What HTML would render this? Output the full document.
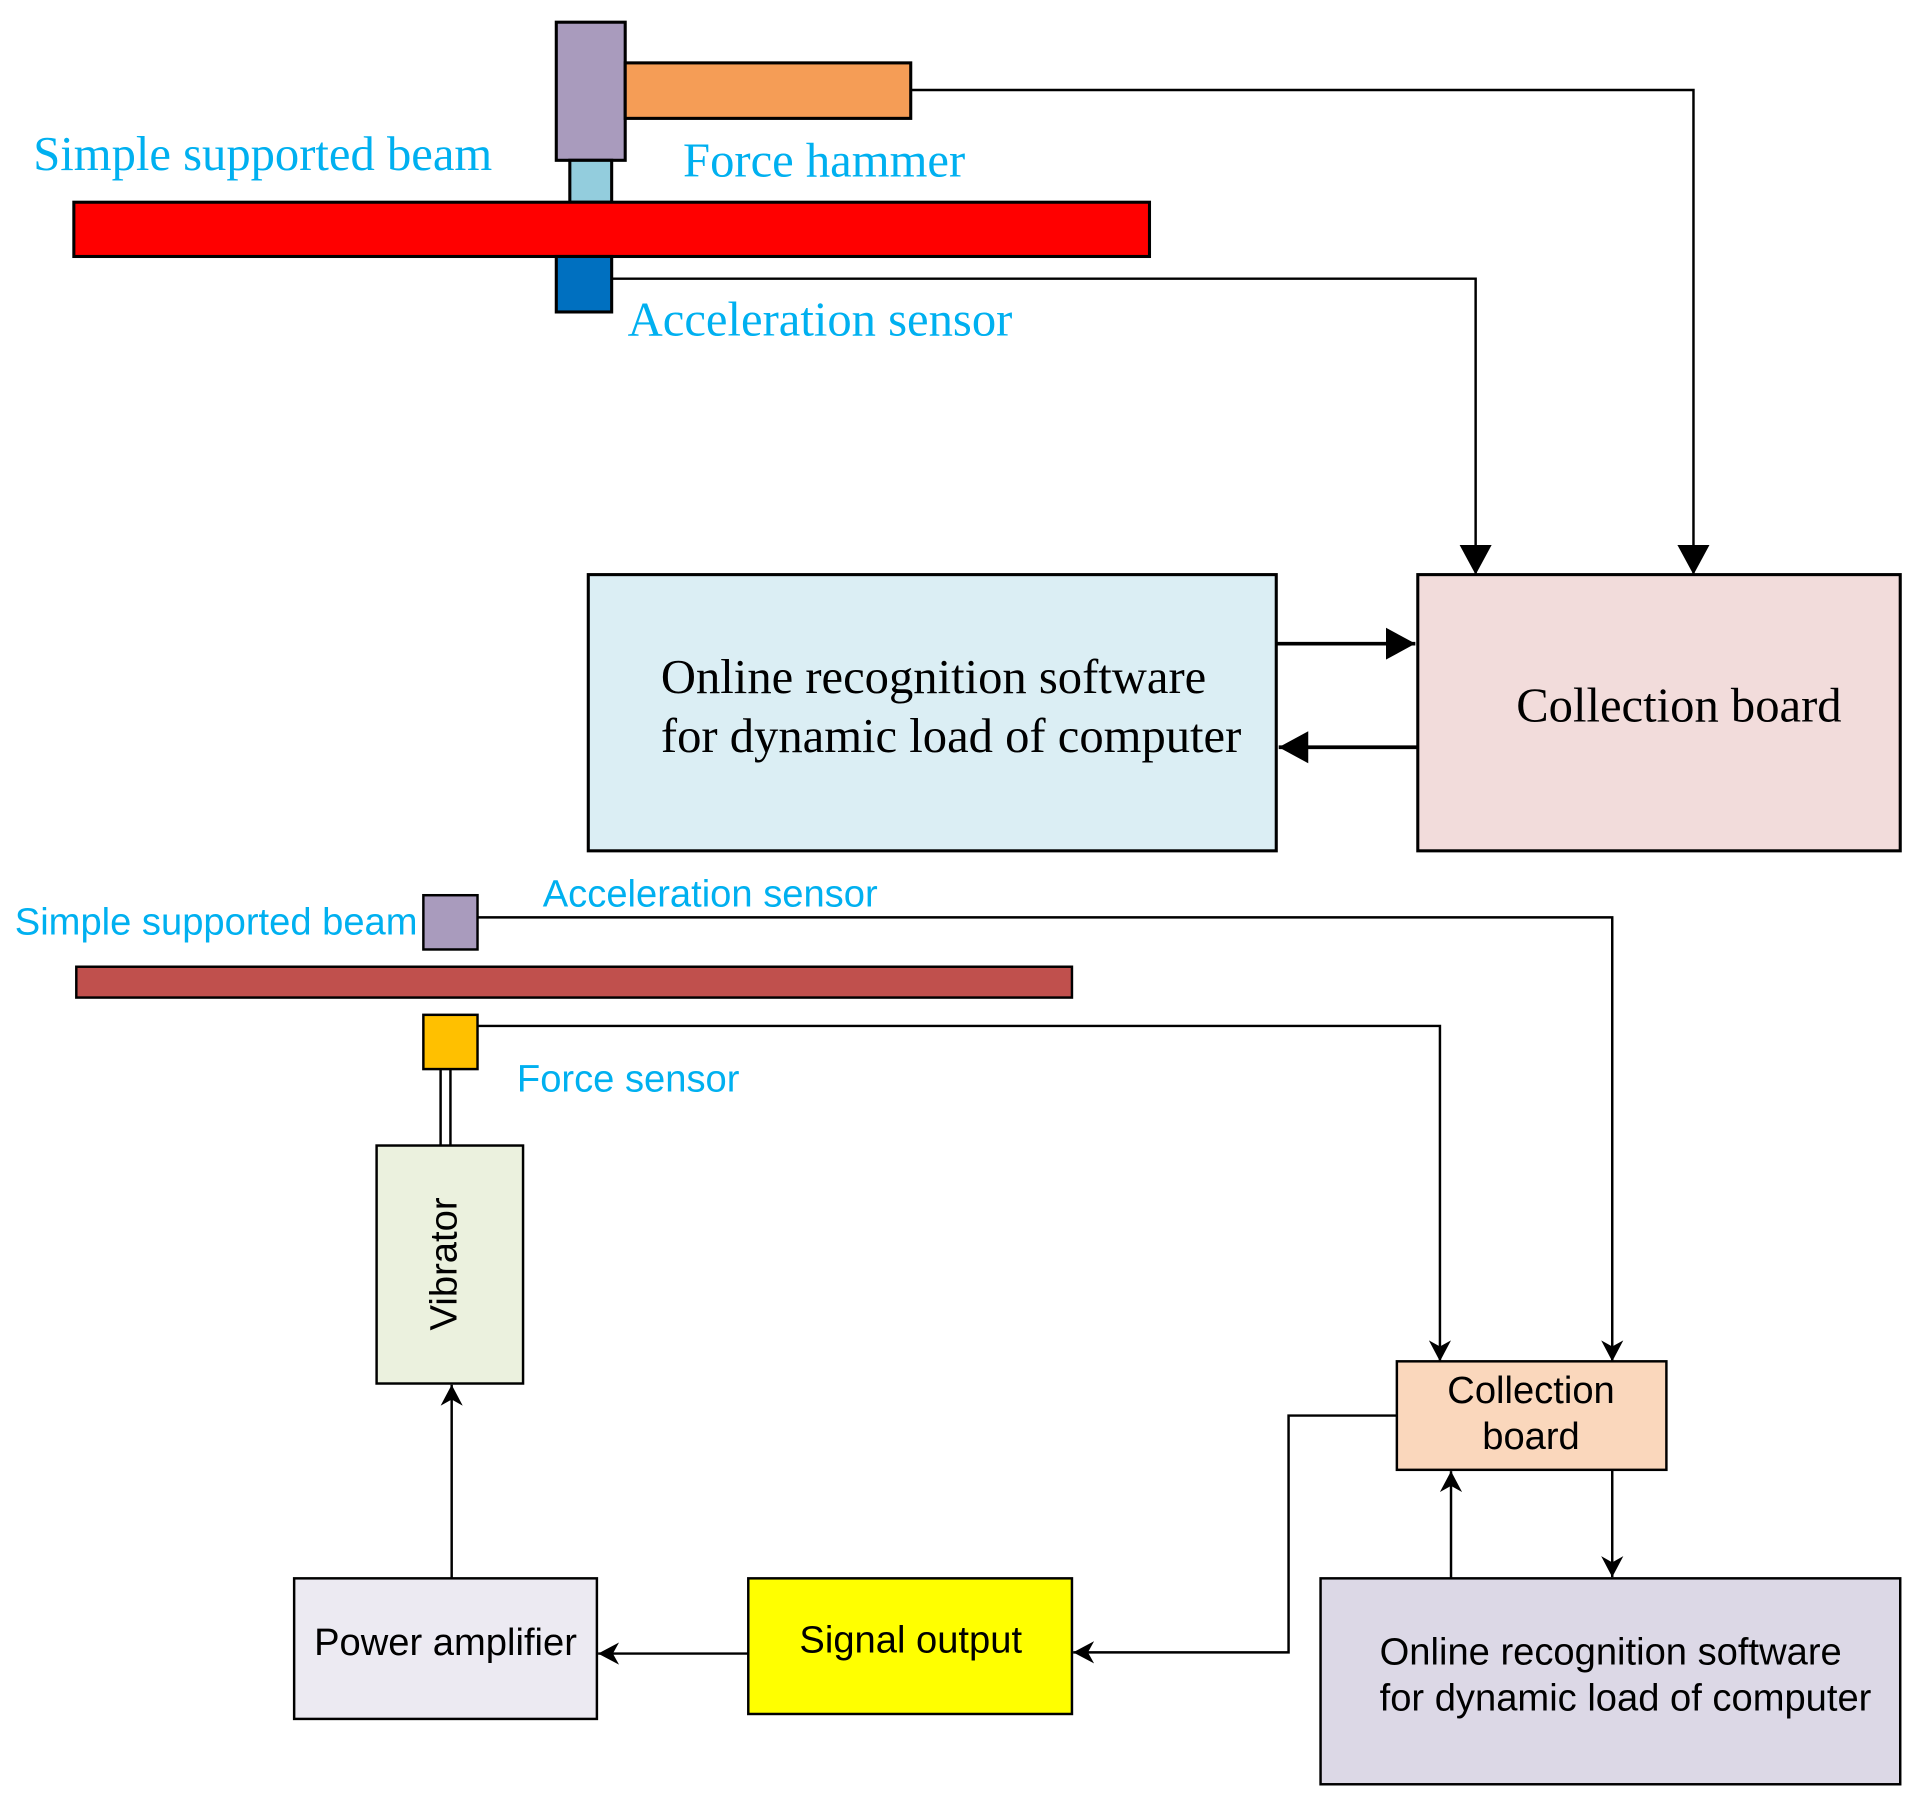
<!DOCTYPE html>
<html><head><meta charset="utf-8"><style>html,body{margin:0;padding:0;background:#fff}svg{display:block}</style></head>
<body>
<svg width="1931" height="1804" viewBox="0 0 1569 1463" preserveAspectRatio="none" xmlns="http://www.w3.org/2000/svg">
<defs>
<marker id="b" markerWidth="26" markerHeight="26" refX="24" refY="13" orient="auto" markerUnits="userSpaceOnUse"><path d="M0,0 L24,13 L0,26 z" fill="#000"/></marker>
<marker id="c" markerWidth="18" markerHeight="18" refX="17" refY="9" orient="auto" markerUnits="userSpaceOnUse"><path d="M0,0 L17,9 L0,18 L5,9 z" fill="#000"/></marker>
</defs>
<g stroke="#000" stroke-width="2.5">
<rect x="452" y="18" width="56" height="112" fill="#a99bbd"/>
<rect x="508" y="51" width="232" height="45" fill="#f59d56"/>
<rect x="463" y="130" width="34" height="34" fill="#93cddd"/>
<rect x="60" y="164" width="874" height="44" fill="#ff0000"/>
<rect x="452" y="208" width="45" height="45" fill="#0070c0"/>
<rect x="478" y="466" width="559" height="224" fill="#dbeef4"/>
<rect x="1152" y="466" width="392" height="224" fill="#f2dcdb"/>
</g>
<g fill="none" stroke="#000" stroke-width="2">
<polyline points="740,73 1376,73 1376,466" marker-end="url(#b)"/>
<polyline points="497,226 1199,226 1199,466" marker-end="url(#b)"/>
<line x1="1037" y1="522" x2="1150" y2="522" marker-end="url(#b)" stroke-width="3"/>
<line x1="1152" y1="606" x2="1039" y2="606" marker-end="url(#b)" stroke-width="3"/>
</g>
<g font-family="Liberation Serif, serif" font-size="39.5">
<text x="27" y="138" fill="#00b0f0">Simple supported beam</text>
<text x="555" y="143" fill="#00b0f0">Force hammer</text>
<text x="510" y="272" fill="#00b0f0">Acceleration sensor</text>
<text x="537" y="562" fill="#000">Online recognition software</text>
<text x="537" y="610" fill="#000">for dynamic load of computer</text>
<text x="1232" y="585" fill="#000">Collection board</text>
</g>
<g stroke="#000" stroke-width="2">
<rect x="344" y="726" width="44" height="44" fill="#a99bbd"/>
<rect x="62" y="784" width="809" height="25" fill="#c0504d"/>
<rect x="344" y="823" width="44" height="44" fill="#ffc000"/>
<line x1="358" y1="867" x2="358" y2="929"/>
<line x1="366" y1="867" x2="366" y2="929"/>
<rect x="306" y="929" width="119" height="193" fill="#ebf1de"/>
<rect x="1135" y="1104" width="219" height="88" fill="#fad7bc"/>
<rect x="1073" y="1280" width="471" height="167" fill="#dcd8e6"/>
<rect x="608" y="1280" width="263" height="110" fill="#ffff00"/>
<rect x="239" y="1280" width="246" height="114" fill="#eceaf2"/>
</g>
<g fill="none" stroke="#000" stroke-width="2">
<polyline points="388,744 1310,744 1310,1104" marker-end="url(#c)"/>
<polyline points="388,832 1170,832 1170,1104" marker-end="url(#c)"/>
<line x1="1179" y1="1280" x2="1179" y2="1193" marker-end="url(#c)"/>
<line x1="1310" y1="1192" x2="1310" y2="1279" marker-end="url(#c)"/>
<polyline points="1135,1148 1047,1148 1047,1340 872,1340" marker-end="url(#c)"/>
<line x1="608" y1="1341" x2="486" y2="1341" marker-end="url(#c)"/>
<line x1="367" y1="1280" x2="367" y2="1123" marker-end="url(#c)"/>
</g>
<g font-family="Liberation Sans, sans-serif" font-size="31">
<text x="441" y="735" fill="#00b0f0">Acceleration sensor</text>
<text x="12" y="758" fill="#00b0f0">Simple supported beam</text>
<text x="420" y="885" fill="#00b0f0">Force sensor</text>
<text transform="translate(371,1025) rotate(-90)" text-anchor="middle" fill="#000">Vibrator</text>
<text x="1244" y="1138" text-anchor="middle" fill="#000">Collection</text>
<text x="1244" y="1175" text-anchor="middle" fill="#000">board</text>
<text x="1121" y="1350" fill="#000">Online recognition software</text>
<text x="1121" y="1387" fill="#000">for dynamic load of computer</text>
<text x="740" y="1340" text-anchor="middle" fill="#000">Signal output</text>
<text x="362" y="1342" text-anchor="middle" fill="#000">Power amplifier</text>
</g>
</svg>
</body></html>
